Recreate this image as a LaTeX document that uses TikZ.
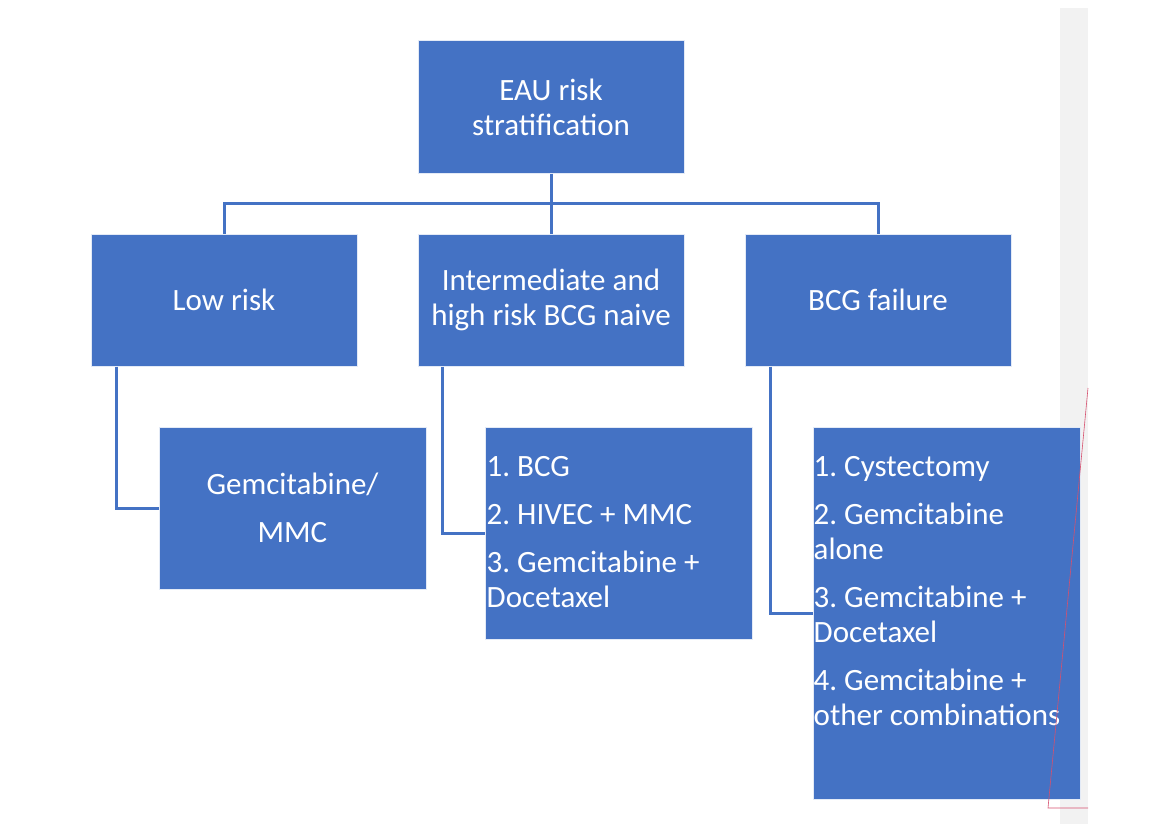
\documentclass[tikz,border=0pt]{standalone}
\usepackage{fontspec}
\setmainfont{Carlito}
\frenchspacing
\usetikzlibrary{positioning,calc}
\definecolor{officeblue}{RGB}{68,114,196}
\definecolor{bandgray}{RGB}{242,242,242}
\definecolor{markred}{RGB}{214,80,110}
\tikzset{
  box/.style={rectangle, draw=white!85!officeblue, line width=1pt, fill=officeblue, text=white, align=flush center, inner sep=0pt, minimum width=266pt, minimum height=132pt, font=\fontsize{31}{35}\selectfont},
  listbox/.style={box, minimum width=267pt},
  listtext/.style={text=white, align=flush left, inner sep=0pt, text width=265pt, font=\fontsize{31}{35}\selectfont},
  link/.style={draw=officeblue, line width=3pt}
}
\begin{document}
\begin{tikzpicture}[x=1pt, y=-1pt, node distance=60pt and 60pt]
\useasboundingbox (0,0) rectangle (1164,824);
\fill[bandgray] (1060,8) rectangle (1088,824);
\node[box] (top) at (551,107) {EAU risk\\stratification};
\node[box, below=of top] (mid) {Intermediate and\\high risk BCG naive};
\node[box, left=of mid] (low) {Low risk};
\node[box, right=of mid] (fail) {BCG failure};
\node[listbox, below=60pt of low.south west, anchor=north west, xshift=68pt, minimum height=162pt] (gem) {Gemcitabine/\\[13pt]MMC};
\node[listbox, below=60pt of mid.south west, anchor=north west, xshift=67pt, minimum height=212pt] (midlist) {};
\node[listtext, anchor=west, xshift=2pt, yshift=1pt] (midtext) at (midlist.west) {1. BCG\\[13pt]2. HIVEC + MMC\\[13pt]3. Gemcitabine +\\Docetaxel};
\node[listbox, below=60pt of fail.south west, anchor=north west, xshift=68pt, minimum height=372pt] (faillist) {};
\node[listtext, anchor=north west, xshift=1pt, yshift=-30pt] (failtext) at (faillist.north west) {1. Cystectomy\\[13pt]2. Gemcitabine\\alone\\[13pt]3. Gemcitabine +\\Docetaxel\\[13pt]4. Gemcitabine +\\other combinations};
% tree links
\draw[link] (top.south) -- (mid.north);
\draw[link] (low.north) |- ($(top.south)!0.5!(mid.north)$) -| (fail.north);
\draw[link] ([xshift=26pt]low.south west) |- (gem.west);
\draw[link] ([xshift=25pt]mid.south west) |- (midlist.west);
\draw[link] ([xshift=26pt]fail.south west) |- (faillist.west);
\draw[markred, line width=0.6pt] (1088,388) -- (1048,808) -- (1088,808);
\end{tikzpicture}
\end{document}
